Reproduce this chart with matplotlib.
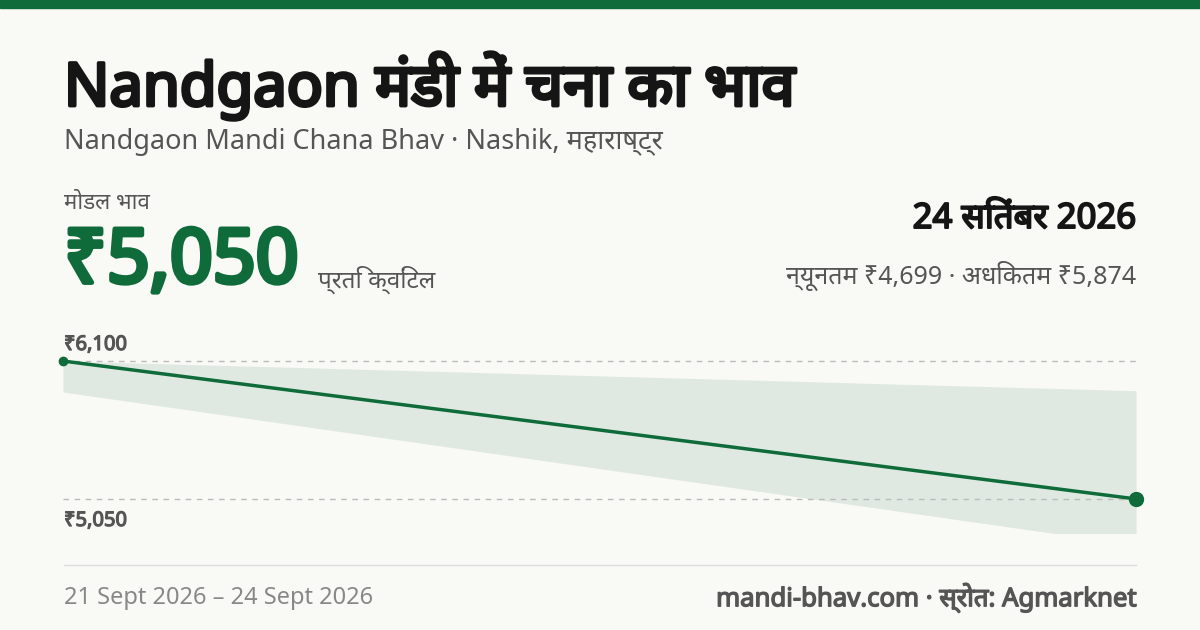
import matplotlib
matplotlib.use("Agg")
import matplotlib.pyplot as plt
from matplotlib.patches import Rectangle
from matplotlib.lines import Line2D
import matplotlib.patheffects as pe

plt.rcParams['font.family'] = ['Noto Sans', 'DejaVu Sans']

dates = ["21 Sept 2026", "24 Sept 2026"]
modal = [6100, 5050]
min_price = [5864, 4699]
max_price = [6100, 5874]
ref_lines = [6100, 5050]
ref_labels = ["₹6,100", "₹5,050"]

W, H = 1200, 630
BG = "#f9f9f5"
GREEN = "#0f6b3a"
fig = plt.figure(figsize=(12, 6.3), dpi=100, facecolor=BG)

def px(x, y):
    return x / W, 1 - y / H

def bold(c, w):
    return [pe.withStroke(linewidth=w, foreground=c)]

fig.add_artist(Rectangle((0, 1 - 8 / H), 1, 8 / H, transform=fig.transFigure, color=GREEN))

fig.text(*px(64, 86), "Nandgaon मंडी में चना का भाव", fontsize=43, color="#151515", va='center',
         path_effects=bold("#151515", 2.6))
fig.text(*px(64, 142), "Nandgaon Mandi Chana Bhav · Nashik, महाराष्ट्र", fontsize=19.5, color="#555555", va='center')
fig.text(*px(64, 203), "मोडल भाव", fontsize=16, color="#555555", va='center')
fig.text(*px(64, 263), "₹5,050", fontsize=54, color=GREEN, va='center', path_effects=bold(GREEN, 3.5))
fig.text(*px(318, 280), "प्रति क्विंटल", fontsize=17.5, color="#555555", va='center')
fig.text(*px(1136, 219), "24 सितंबर 2026", fontsize=25, color="#151515", va='center', ha='right',
         path_effects=bold("#151515", 1.4))
fig.text(*px(1136, 276), "न्यूनतम ₹4,699 · अधिकतम ₹5,874", fontsize=18, color="#555555", va='center', ha='right')
fig.text(*px(64, 598), f"{dates[0]} – {dates[1]}", fontsize=17, color="#888888", va='center')
fig.text(*px(1136, 598), "mandi-bhav.com · स्रोत: Agmarknet", fontsize=18.5, color="#555555", va='center', ha='right',
         path_effects=bold("#555555", 1.0))

fig.add_artist(Line2D([64 / W, 1136 / W], [1 - 565 / H] * 2, transform=fig.transFigure, color="#dddddd", lw=1))

x0, x1 = 63, 1136
yt, yb = 340, 533
ax = fig.add_axes([x0 / W, 1 - yb / H, (x1 - x0) / W, (yb - yt) / H])
ax.set_facecolor('none')
ax.set_xlim(0, len(dates) - 1)
ax.set_ylim(4791, 6260)
xs = list(range(len(dates)))
ax.fill_between(xs, min_price, max_price, color="#dfe9e1", lw=0)
for v in ref_lines:
    ax.axhline(v, color="#bbbbbb", ls=(0, (4, 4)), lw=1)
ax.plot(xs, modal, color=GREEN, lw=2.5, solid_capstyle='round')
ax.plot([xs[0]], [modal[0]], 'o', color=GREEN, ms=6, clip_on=False)
ax.plot([xs[-1]], [modal[-1]], 'o', color=GREEN, ms=10, clip_on=False)
ax.axis('off')

fig.text(*px(64, 345), ref_labels[0], fontsize=14.5, color="#555555", va='center', path_effects=bold("#555555", 0.9))
fig.text(*px(64, 521), ref_labels[1], fontsize=14.5, color="#555555", va='center', path_effects=bold("#555555", 0.9))

fig.savefig("out.png", dpi=100, facecolor=BG)
